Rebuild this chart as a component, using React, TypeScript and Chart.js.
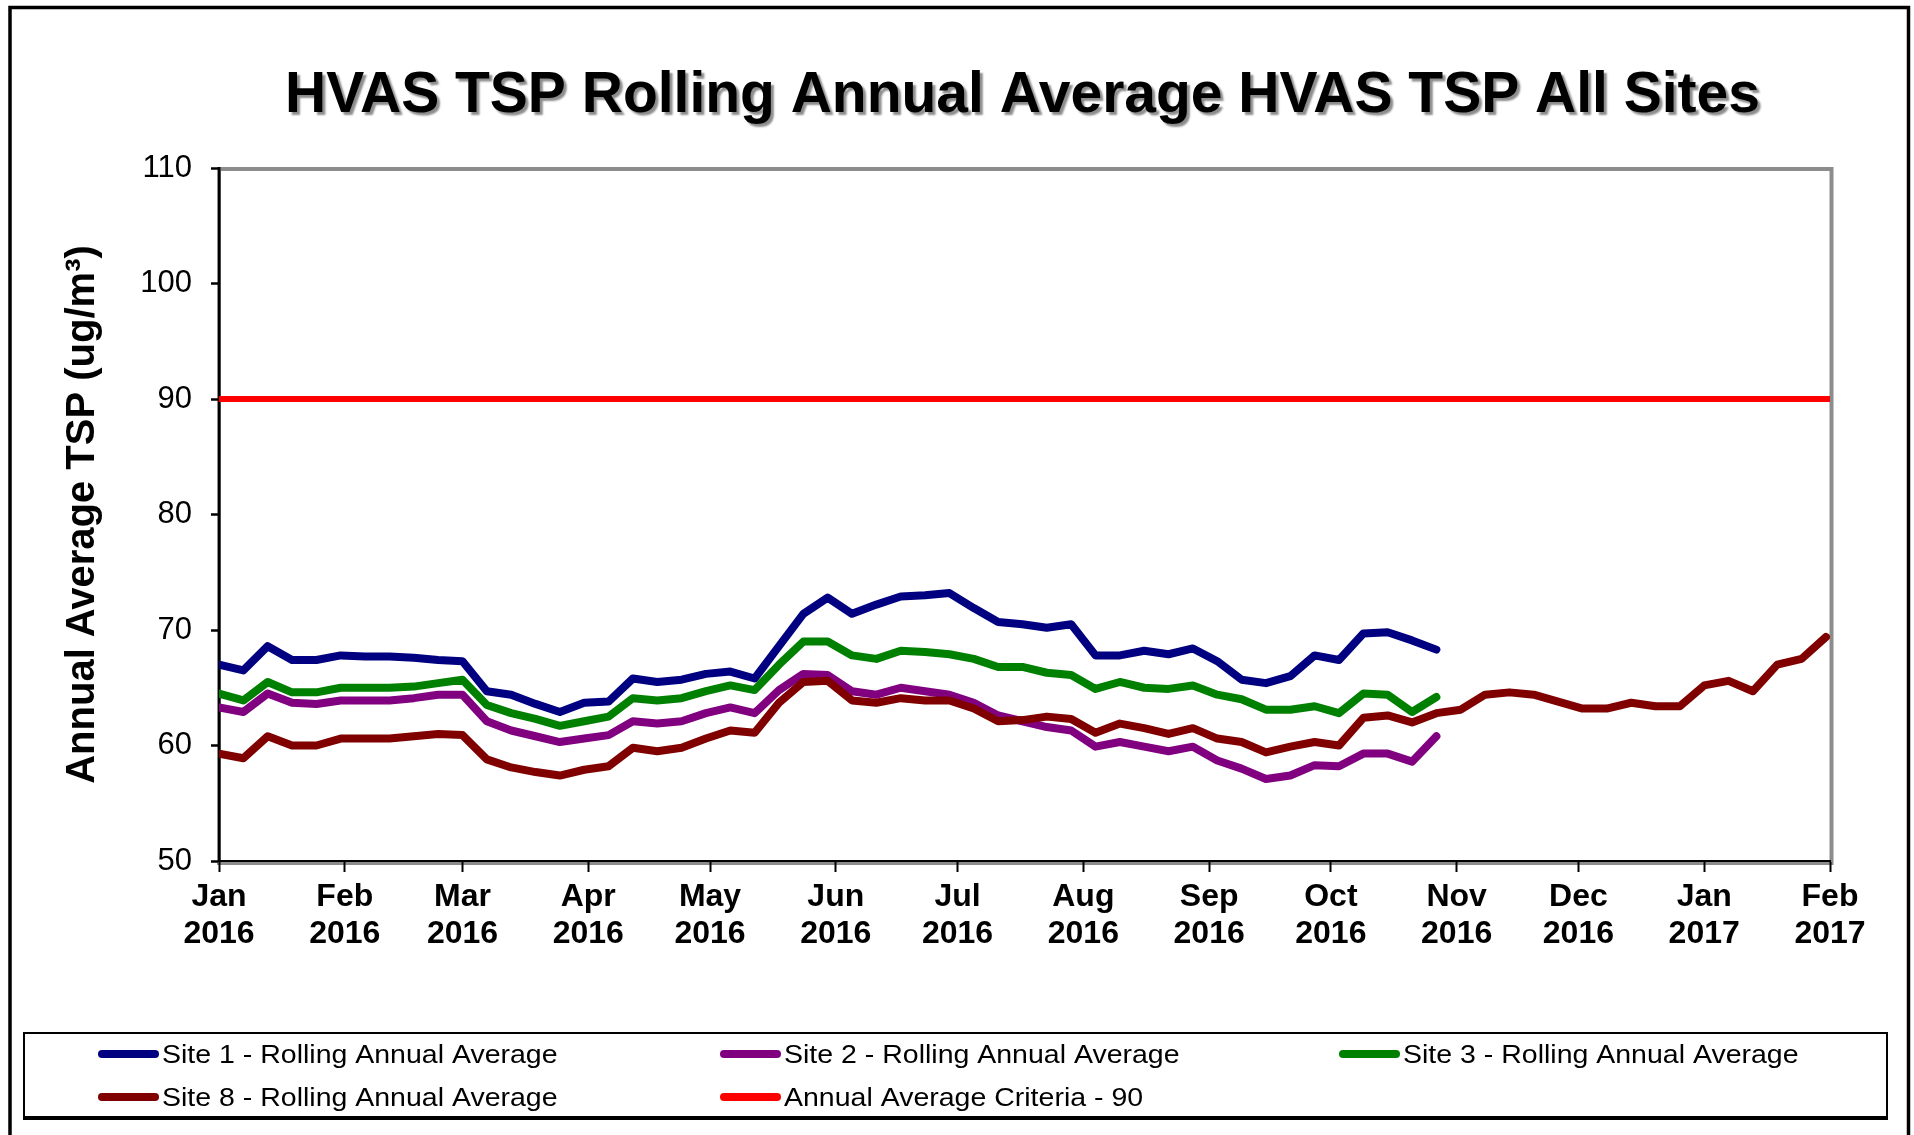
import React, { useEffect, useRef } from "react";
import { Chart, registerables } from "chart.js";

Chart.register(...registerables);

// ---------- DATA ----------
const chartTitle = "HVAS TSP Rolling Annual Average HVAS TSP All Sites";
const yAxisTitle = "Annual Average TSP (ug/m³)";

// HVAS 1-in-6-day sampling dates
const sampleDates = [
  "2016-01-01", "2016-01-07", "2016-01-13", "2016-01-19", "2016-01-25", "2016-01-31",
  "2016-02-06", "2016-02-12", "2016-02-18", "2016-02-24", "2016-03-01", "2016-03-07",
  "2016-03-13", "2016-03-19", "2016-03-25", "2016-03-31", "2016-04-06", "2016-04-12",
  "2016-04-18", "2016-04-24", "2016-04-30", "2016-05-06", "2016-05-12", "2016-05-18",
  "2016-05-24", "2016-05-30", "2016-06-05", "2016-06-11", "2016-06-17", "2016-06-23",
  "2016-06-29", "2016-07-05", "2016-07-11", "2016-07-17", "2016-07-23", "2016-07-29",
  "2016-08-04", "2016-08-10", "2016-08-16", "2016-08-22", "2016-08-28", "2016-09-03",
  "2016-09-09", "2016-09-15", "2016-09-21", "2016-09-27", "2016-10-03", "2016-10-09",
  "2016-10-15", "2016-10-21", "2016-10-27", "2016-11-02", "2016-11-08", "2016-11-14",
  "2016-11-20", "2016-11-26", "2016-12-02", "2016-12-08", "2016-12-14", "2016-12-20",
  "2016-12-26", "2017-01-01", "2017-01-07", "2017-01-13", "2017-01-19", "2017-01-25",
  "2017-01-31",
];

const site1 = [
  67.0, 66.5, 68.6, 67.4, 67.4, 67.8, 67.7, 67.7, 67.6, 67.4,
  67.3, 64.7, 64.4, 63.6, 62.9, 63.7, 63.8, 65.8, 65.5, 65.7,
  66.2, 66.4, 65.8, 68.6, 71.4, 72.8, 71.4, 72.2, 72.9, 73.0,
  73.2, 71.9, 70.7, 70.5, 70.2, 70.5, 67.8, 67.8, 68.2, 67.9,
  68.4, 67.3, 65.7, 65.4, 66.0, 67.8, 67.4, 69.7, 69.8, 69.1,
  68.3,
];

const site2 = [
  63.3, 62.9, 64.5, 63.7, 63.6, 63.9, 63.9, 63.9, 64.1, 64.4,
  64.4, 62.1, 61.3, 60.8, 60.3, 60.6, 60.9, 62.1, 61.9, 62.1,
  62.8, 63.3, 62.8, 64.8, 66.2, 66.1, 64.7, 64.4, 65.0, 64.7,
  64.4, 63.7, 62.6, 62.1, 61.6, 61.3, 59.9, 60.3, 59.9, 59.5,
  59.9, 58.7, 58.0, 57.1, 57.4, 58.3, 58.2, 59.3, 59.3, 58.6,
  60.8,
];

const site3 = [
  64.5, 63.9, 65.5, 64.6, 64.6, 65.0, 65.0, 65.0, 65.1, 65.4,
  65.7, 63.5, 62.8, 62.3, 61.7, 62.1, 62.5, 64.1, 63.9, 64.1,
  64.7, 65.2, 64.8, 67.0, 69.0, 69.0, 67.8, 67.5, 68.2, 68.1,
  67.9, 67.5, 66.8, 66.8, 66.3, 66.1, 64.9, 65.5, 65.0, 64.9,
  65.2, 64.4, 64.0, 63.1, 63.1, 63.4, 62.8, 64.5, 64.4, 62.9,
  64.2,
];

const site8 = [
  59.3, 58.9, 60.8, 60.0, 60.0, 60.6, 60.6, 60.6, 60.8, 61.0,
  60.9, 58.8, 58.1, 57.7, 57.4, 57.9, 58.2, 59.8, 59.5, 59.8,
  60.6, 61.3, 61.1, 63.7, 65.5, 65.6, 63.9, 63.7, 64.1, 63.9,
  63.9, 63.2, 62.1, 62.2, 62.5, 62.3, 61.1, 61.9, 61.5, 61.0,
  61.5, 60.6, 60.3, 59.4, 59.9, 60.3, 60.0, 62.4, 62.6, 62.0,
  62.8, 63.1, 64.4, 64.6, 64.4, 63.8, 63.2, 63.2, 63.7, 63.4,
  63.4, 65.2, 65.6, 64.7, 67.0, 67.5, 69.4,
];

const criteriaValue = 90;
const criteriaDates = ["2016-01-01", "2017-02-01"];

const monthTickDates = [
  "2016-01-01", "2016-02-01", "2016-03-01", "2016-04-01", "2016-05-01",
  "2016-06-01", "2016-07-01", "2016-08-01", "2016-09-01", "2016-10-01",
  "2016-11-01", "2016-12-01", "2017-01-01", "2017-02-01",
];
const monthNames = ["Jan", "Feb", "Mar", "Apr", "May", "Jun", "Jul", "Aug", "Sep", "Oct", "Nov", "Dec"];

const yMin = 50;
const yMax = 110;
const yStep = 10;

const seriesLabels = [
  "Site 1 - Rolling Annual Average",
  "Site 2 - Rolling Annual Average",
  "Site 3 - Rolling Annual Average",
  "Site 8 - Rolling Annual Average",
  "Annual Average Criteria - 90",
];
const seriesColors = ["#000080", "#800080", "#008000", "#800000", "#FF0000"];

// ---------- HELPERS ----------
const DAY_MS = 86400000;
const ORIGIN = Date.UTC(2016, 0, 1);
function toDay(s: string): number {
  const [y, m, d] = s.split("-").map(Number);
  return Math.round((Date.UTC(y, m - 1, d) - ORIGIN) / DAY_MS);
}
function toPoints(values: number[]) {
  return values.map((v, i) => ({ x: toDay(sampleDates[i]), y: v }));
}

const FONT = "'Liberation Sans', Arial, Helvetica, sans-serif";

// ---------- PLUGINS ----------
const decorPlugin = {
  id: "decor",
  beforeDraw(chart: any) {
    const { ctx, chartArea: ca } = chart;
    ctx.save();
    ctx.fillStyle = "#ffffff";
    ctx.fillRect(0, 0, chart.width, chart.height);
    // outer frame
    ctx.strokeStyle = "#000";
    ctx.lineWidth = 3.5;
    ctx.beginPath();
    ctx.moveTo(10, 1200);
    ctx.lineTo(10, 7.5);
    ctx.lineTo(1908.5, 7.5);
    ctx.lineTo(1908.5, 1200);
    ctx.stroke();
    // plot area gray frame
    ctx.strokeStyle = "#8c8c8c";
    ctx.lineWidth = 4;
    ctx.strokeRect(ca.left, ca.top + 1, ca.right - ca.left + 1.5, ca.bottom - ca.top + 1);
    ctx.restore();
  },
  afterDraw(chart: any) {
    const { ctx, chartArea: ca } = chart;
    ctx.save();
    // title with shadow
    ctx.font = `bold 57px ${FONT}`;
    ctx.textAlign = "center";
    ctx.textBaseline = "alphabetic";
    ctx.shadowColor = "rgba(0,0,0,0.45)";
    ctx.shadowOffsetX = 3;
    ctx.shadowOffsetY = 3;
    ctx.shadowBlur = 2;
    ctx.fillStyle = "#000";
    ctx.fillText(chartTitle, (ca.left + ca.right) / 2 - 2, 112);
    ctx.shadowColor = "transparent";
    ctx.shadowOffsetX = 0;
    ctx.shadowOffsetY = 0;
    ctx.shadowBlur = 0;

    // legend box
    const bx = 24, by = 1033, bw = 1863, bh = 85;
    ctx.strokeStyle = "#000";
    ctx.lineWidth = 2;
    ctx.strokeRect(bx, by, bw, bh);
    ctx.lineWidth = 4;
    ctx.beginPath();
    ctx.moveTo(bx - 1, by + bh);
    ctx.lineTo(bx + bw + 1, by + bh);
    ctx.stroke();

    const cols = [98, 720, 1339];
    const lineY = [1054, 1097];
    const baseY = [1063, 1106];
    ctx.font = `25px ${FONT}`;
    ctx.textAlign = "left";
    chart.data.datasets.forEach((ds: any, i: number) => {
      const r = Math.floor(i / 3);
      const c = i % 3;
      const x = cols[c];
      ctx.strokeStyle = ds.borderColor;
      ctx.lineWidth = 8;
      ctx.lineCap = "round";
      ctx.beginPath();
      ctx.moveTo(x + 4, lineY[r]);
      ctx.lineTo(x + 57, lineY[r]);
      ctx.stroke();
      ctx.fillStyle = "#000";
      ctx.save();
      ctx.translate(x + 64, baseY[r]);
      ctx.scale(1.14, 1);
      ctx.fillText(ds.label, 0, 0);
      ctx.restore();
    });
    ctx.restore();
  },
};

// ---------- COMPONENT ----------
export default function App() {
  const ref = useRef<HTMLCanvasElement>(null);

  useEffect(() => {
    const canvas = ref.current;
    if (!canvas) return;
    const lineDs = (label: string, color: string, data: any[], width: number, order: number) => ({
      label,
      data,
      borderColor: color,
      backgroundColor: color,
      borderWidth: width,
      pointRadius: 0,
      pointHoverRadius: 0,
      tension: 0,
      fill: false,
      borderJoinStyle: "round" as const,
      borderCapStyle: "round" as const,
      order,
    });

    const tickDays = monthTickDates.map(toDay);

    const chart = new Chart(canvas, {
      type: "line",
      data: {
        datasets: [
          lineDs(seriesLabels[0], seriesColors[0], toPoints(site1), 8, 5),
          lineDs(seriesLabels[1], seriesColors[1], toPoints(site2), 8, 4),
          lineDs(seriesLabels[2], seriesColors[2], toPoints(site3), 8, 3),
          lineDs(seriesLabels[3], seriesColors[3], toPoints(site8), 8, 2),
          lineDs(
            seriesLabels[4],
            seriesColors[4],
            criteriaDates.map((d) => ({ x: toDay(d), y: criteriaValue })),
            6,
            1
          ),
        ],
      },
      options: {
        animation: false,
        responsive: false,
        devicePixelRatio: 1,
        layout: { padding: { left: 0, right: 84, top: 168, bottom: 0 } },
        plugins: {
          legend: { display: false },
          title: { display: false },
          tooltip: { enabled: false },
        },
        events: [],
        scales: {
          x: {
            type: "linear",
            min: tickDays[0],
            max: tickDays[tickDays.length - 1],
            afterBuildTicks: (scale: any) => {
              scale.ticks = tickDays.map((v) => ({ value: v }));
            },
            afterFit: (scale: any) => {
              scale.height = 274;
            },
            ticks: {
              autoSkip: false,
              maxRotation: 0,
              minRotation: 0,
              padding: 7,
              color: "#000",
              font: { family: FONT, size: 32, weight: "bold", lineHeight: 1.15 },
              callback: (value: any) => {
                const idx = tickDays.indexOf(Number(value));
                if (idx < 0) return "";
                const [y, m] = monthTickDates[idx].split("-").map(Number);
                return [monthNames[m - 1], String(y)];
              },
            },
            grid: {
              drawOnChartArea: false,
              drawTicks: true,
              tickLength: 11,
              tickWidth: 2,
              tickColor: "#000",
              color: "#000",
            },
            border: { display: true, color: "#000", width: 2 },
          },
          y: {
            type: "linear",
            min: yMin,
            max: yMax,
            afterFit: (scale: any) => {
              scale.width = 219;
            },
            ticks: {
              stepSize: yStep,
              padding: 19,
              color: "#000",
              font: { family: FONT, size: 31, weight: "normal" },
            },
            grid: {
              drawOnChartArea: false,
              drawTicks: true,
              tickLength: 8,
              tickWidth: 2.5,
              tickColor: "#000",
              color: "#000",
            },
            border: { display: true, color: "#000", width: 2.5 },
            title: {
              display: true,
              text: yAxisTitle,
              color: "#000",
              font: { family: FONT, size: 40, weight: "bold" },
              padding: { top: 59, bottom: 0 },
            },
          },
        },
      } as any,
      plugins: [decorPlugin],
    });

    return () => chart.destroy();
  }, []);

  return (
    <canvas
      ref={ref}
      width={1914}
      height={1135}
      style={{ position: "absolute", left: 0, top: 0, width: "1914px", height: "1135px" }}
    />
  );
}
